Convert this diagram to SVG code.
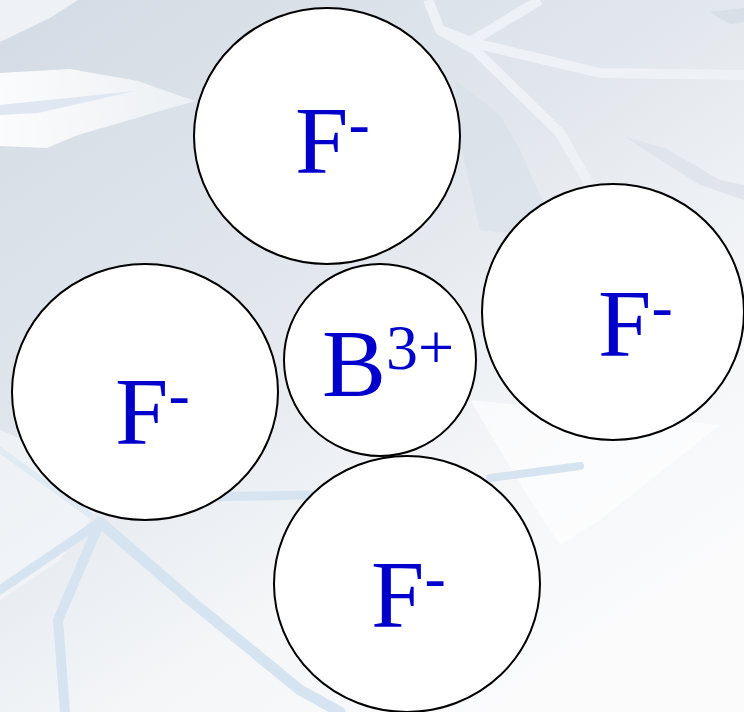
<svg xmlns="http://www.w3.org/2000/svg" width="744" height="712" viewBox="0 0 744 712">
  <defs>
    <linearGradient id="bg" x1="0" y1="0" x2="0.7" y2="1">
      <stop offset="0" stop-color="#d3dbe4"/>
      <stop offset="0.45" stop-color="#e2e7ed"/>
      <stop offset="0.75" stop-color="#f4f6f8"/>
      <stop offset="1" stop-color="#fbfbfc"/>
    </linearGradient>
    <linearGradient id="lite" x1="0" y1="0" x2="1" y2="0">
      <stop offset="0" stop-color="#ffffff" stop-opacity="0.9"/>
      <stop offset="1" stop-color="#ffffff" stop-opacity="0.5"/>
    </linearGradient>
  </defs>
  <style>
    .ion { fill: #ffffff; stroke: #000000; stroke-width: 2; }
    .lbl { font-family: "Liberation Serif", "Times New Roman", serif; fill: #0000cc; font-size: 96px; }
    .sup { font-size: 64px; }
    .crack { fill: none; stroke: #d6e4f1; stroke-linecap: round; stroke-linejoin: round; }
    .shine { fill: none; stroke: #eef2f7; stroke-linecap: butt; stroke-linejoin: round; }
  </style>

  <!-- background -->
  <rect x="0" y="0" width="744" height="712" fill="url(#bg)"/>
  <polygon points="0,0 78,0 50,18 0,42" fill="#eef1f5"/>
  <polygon points="0,73 70,69 138,81 195,101 78,135 47,148 0,146" fill="url(#lite)"/>
  <polygon points="0,105 135,91 38,113 0,115" fill="#dfe8f2"/>
  <polygon points="455,80 500,115 520,150 560,240 480,230 462,150" fill="#d8dfe8" opacity="0.6"/>
  <polygon points="625,137 665,148 720,180 744,185 744,200 700,185" fill="#dce2e9" opacity="0.8"/>
  <polygon points="710,12 744,8 744,22 730,24" fill="#d8dfe7"/>
  <path class="shine" d="M428,0 L440,30 L470,42 L600,73 L744,75" stroke-width="10"/>
  <path class="shine" d="M440,30 L475,50 L560,133 L590,185" stroke-width="10"/>
  <path class="shine" d="M470,42 L540,0" stroke-width="10"/>
  <polygon points="470,400 720,425 600,520 560,545 530,500" fill="#ffffff" opacity="0.6"/>
  <polygon points="0,430 120,480 60,560 0,600" fill="#f4f6f9" opacity="0.7"/>
  <path class="crack" d="M100,522 L58,620 L65,712" stroke-width="10"/>
  <path class="crack" d="M100,522 L0,590" stroke-width="9"/>
  <path class="crack" d="M100,522 L190,600 L300,690 L340,712" stroke-width="11"/>
  <path class="crack" d="M200,497 L310,495" stroke-width="9"/>
  <path class="crack" d="M490,478 L580,466" stroke-width="8"/>
  <path class="crack" d="M0,450 L90,515" stroke-width="6" opacity="0.6"/>

  <!-- connectors (none) -->
  <g id="connectors"></g>

  <g id="F-top">
    <ellipse class="ion" cx="327" cy="136" rx="133" ry="128"/>
    <text class="lbl" x="295" y="173">F<tspan class="sup" dy="-28">-</tspan></text>
  </g>
  <g id="F-right">
    <ellipse class="ion" cx="613" cy="312" rx="131" ry="128"/>
    <text class="lbl" x="598" y="356">F<tspan class="sup" dy="-28">-</tspan></text>
  </g>
  <g id="F-left">
    <ellipse class="ion" cx="145" cy="392" rx="133" ry="128"/>
    <text class="lbl" x="115" y="444">F<tspan class="sup" dy="-28">-</tspan></text>
  </g>
  <g id="F-bottom">
    <ellipse class="ion" cx="407" cy="584" rx="133" ry="128"/>
    <text class="lbl" x="371" y="627">F<tspan class="sup" dy="-28">-</tspan></text>
  </g>
  <g id="B3plus">
    <circle class="ion" cx="380" cy="360" r="96"/>
    <text class="lbl" x="322" y="396">B<tspan class="sup" dy="-27">3+</tspan></text>
  </g>
</svg>
